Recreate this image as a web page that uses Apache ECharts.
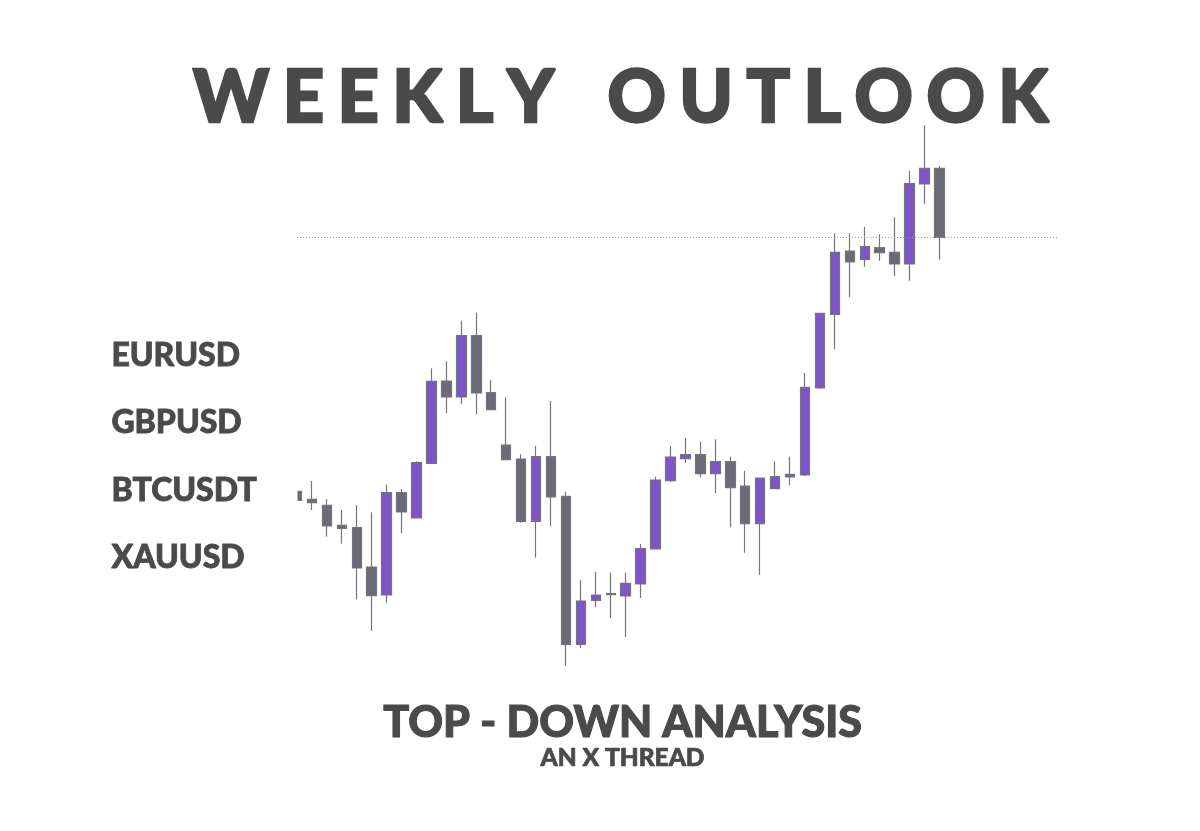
<!DOCTYPE html>
<html>
<head>
<meta charset="utf-8">
<style>html,body{margin:0;padding:0;background:#fff}#c{width:1200px;height:831px}</style>
<script src="https://cdn.jsdelivr.net/npm/echarts@6/dist/echarts.min.js"></script>
</head>
<body>
<div id="c"></div>
<script>
const titleText = 'WEEKLY OUTLOOK';
const subtitleText = 'TOP - DOWN ANALYSIS';
const threadText = 'AN X THREAD';
const symbols = ['EURUSD', 'GBPUSD', 'BTCUSDT', 'XAUUSD'];

const opens  = [339.7,331.7,325.7,305.7,303.3,264,236,338.3,313,367.7,450,434,495.3,438.3,386,372,309.7,374.3,334.7,186.7,230.7,237.3,235,247,282,350.3,372.3,376.3,357.3,369.3,345,307.3,342.3,354,356,443,516.7,580,571.7,583.3,578.7,567,647,662.7];
const closes = [330.7,328.3,305,302.7,263,235.3,338.3,319,368.3,449.7,434,495.3,438,421.3,371.3,309.7,374.3,334,186.7,230,236,236.3,247.7,282.3,351,374,376.3,357.3,369.3,343.3,307.3,353,354.3,356.7,443.7,517.7,578.7,569,584.3,578.3,567,647.3,662.7,593.7];
const lows   = [330.7,321,294.3,287.3,231.7,200.3,228.3,297.7,313,367.7,417.7,427,416.7,421.3,371.3,308.3,273.3,304.7,165.3,183,223.7,213,194,233,282,349,368,353.7,337.7,303.7,278.3,256.3,342.3,345.7,355,442.3,481.7,534,564.3,570.3,555,550.3,627,571.3];
const highs  = [339.7,350,331.7,321,325.7,318.7,346.3,342,369.7,462.7,469.7,510.3,518.3,451,433.7,376.7,385,430,339.3,251,259.3,258.3,258.3,287,354.3,385,393,389.3,391.7,374.3,360.3,353,369.7,374.3,458,518.3,597.7,597.7,604.3,596.7,613.7,660.3,705.7,665];
const levelPrice = 593.7;
const sessions = Array.from({length: 52}, (_, i) => String(i + 1));

const purple = '#7d55c7', gray = '#6b6b78', wick = '#74747f', ink = '#4a4a4a';
const chart = echarts.init(document.getElementById('c'), null, {renderer: 'canvas'});
const fontFamily = 'Lato, "Open Sans", sans-serif';
const heavy = w => ({textBorderColor: ink, textBorderWidth: w});
chart.setOption({
  animation: false,
  backgroundColor: '#ffffff',
  grid: {left: 297, top: 0, width: 762, height: 831},
  xAxis: {type: 'category', data: sessions, boundaryGap: false, show: false},
  yAxis: {type: 'value', min: 0, max: 831, show: false, scale: true},
  title: [
    {text: titleText.split('').join('\u2009\u200a').replace(' ', ' \u200a\u200a'), left: 188, top: 57.5,
     textStyle: {fontFamily, fontWeight: 900, fontSize: 72, color: ink, ...heavy(2.4)}},
    {text: subtitleText, left: 617.5, top: 697, textAlign: 'center',
     textStyle: {fontFamily, fontWeight: 900, fontSize: 43, color: ink, ...heavy(1.1)}},
    {text: threadText, left: 617.5, top: 741, textAlign: 'center',
     textStyle: {fontFamily, fontWeight: 900, fontSize: 24.5, color: ink, ...heavy(0.7)}},
  ],
  graphic: [
    ...symbols.map((s, i) => ({
      type: 'text', left: 111, top: 339.5 + i * 67.2,
      style: {text: s, font: `900 32px ${fontFamily}`, fill: ink, stroke: ink, lineWidth: 0.8}
    })),
    {type: 'rect', left: 285, top: 485, z: 100, shape: {width: 12.5, height: 22}, style: {fill: '#ffffff'}}
  ],
  series: [{
    type: 'candlestick',
    barWidth: 10,
    data: opens.map((o, i) => [o, closes[i], lows[i], highs[i]]),
    itemStyle: {color: purple, color0: gray, borderColor: wick, borderColor0: wick, borderWidth: 1.2,
                borderColorDoji: wick},
    markLine: {
      silent: true, symbol: 'none', animation: false, label: {show: false},
      lineStyle: {type: [1, 2], color: '#999999', width: 1},
      data: [[{coord: [0, levelPrice]}, {coord: [50.8, levelPrice]}]]
    }
  }]
});
</script>
</body>
</html>
